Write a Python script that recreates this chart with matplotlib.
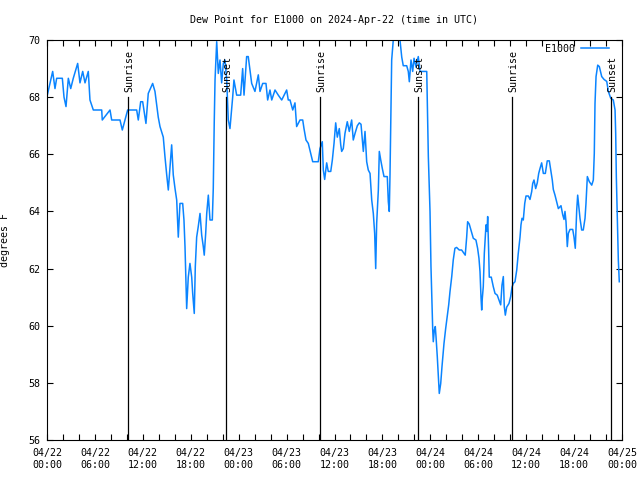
import pandas as pd
import matplotlib
matplotlib.use('Agg')
from matplotlib import pyplot as plt
import matplotlib.dates as mdates

# hours after 2024-04-22 00:00 UTC, and dew point (degrees F)
hours = [0.04, 0.71, 1.00, 1.21, 1.92, 2.13, 2.38, 2.67, 2.97, 3.29, 3.84, 4.13, 4.47, 4.76,
         5.17, 5.38, 5.80, 6.85, 6.92, 7.89, 8.10, 9.14, 9.43, 9.77, 10.10, 11.23, 11.43,
         11.73, 11.98, 12.39, 12.68, 13.23, 13.52, 13.93, 14.15, 14.56, 14.77, 14.99, 15.19,
         15.61, 15.81, 16.03, 16.24, 16.44, 16.65, 16.99, 17.15, 17.28, 17.49, 17.69, 17.90,
         18.12, 18.24, 18.44, 18.57, 18.74, 18.94, 19.16, 19.37, 19.57, 19.69, 19.87, 20.00,
         20.20, 20.41, 20.70, 20.82, 20.94, 21.04, 21.25, 21.45, 21.66, 21.87, 22.08, 22.29,
         22.50, 22.70, 22.91, 23.25, 23.41, 23.75, 24.25, 24.50, 24.67, 25.00, 25.20, 25.63,
         26.04, 26.46, 26.67, 27.01, 27.42, 27.63, 27.92, 28.14, 28.55, 28.96, 29.39, 30.01,
         30.21, 30.43, 30.77, 31.05, 31.26, 31.68, 32.02, 32.18, 32.43, 32.72, 33.02, 33.27,
         33.97, 34.18, 34.47, 34.60, 34.77, 35.02, 35.22, 35.53, 35.73, 35.94, 36.15, 36.35,
         36.60, 36.78, 36.90, 37.10, 37.31, 37.60, 37.85, 38.15, 38.35, 38.57, 38.86, 39.11,
         39.32, 39.61, 39.82, 40.03, 40.23, 40.45, 40.66, 40.86, 41.03, 41.16, 41.28, 41.49,
         41.61, 41.79, 41.99, 42.20, 42.61, 42.74, 42.86, 42.95, 43.08, 43.16, 43.36, 44.20,
         44.42, 44.61, 45.04, 45.24, 45.37, 45.58, 45.79, 45.96, 46.21, 46.49, 46.71, 47.55,
         47.62, 47.75, 47.96, 48.08, 48.21, 48.30, 48.37, 48.50, 48.62, 48.71, 48.87, 48.99,
         49.12, 49.30, 49.46, 49.71, 49.92, 50.13, 50.30, 50.46, 50.68, 50.87, 51.08, 51.29,
         51.62, 51.92, 52.21, 52.37, 52.55, 52.67, 52.87, 53.09, 53.38, 53.71, 53.92, 54.09,
         54.22, 54.35, 54.43, 54.51, 54.63, 54.76, 54.97, 55.10, 55.18, 55.30, 55.38, 55.63,
         55.88, 56.10, 56.38, 56.60, 56.81, 56.97, 57.14, 57.26, 57.39, 57.56, 57.85, 58.06,
         58.23, 58.39, 58.60, 58.82, 59.01, 59.23, 59.35, 59.48, 59.64, 59.82, 59.98, 60.27,
         60.48, 60.69, 60.82, 60.98, 61.19, 61.39, 61.57, 61.73, 61.94, 62.15, 62.40, 62.64,
         62.90, 63.11, 63.27, 63.40, 63.61, 63.82, 64.03, 64.36, 64.58, 64.74, 64.86, 64.99,
         65.15, 65.28, 65.49, 65.83, 65.99, 66.15, 66.33, 66.45, 66.62, 66.74, 66.95, 67.15,
         67.37, 67.49, 67.66, 67.91, 68.21, 68.41, 68.53, 68.62, 68.75, 68.96, 69.16, 69.46,
         69.75, 70.09, 70.29, 70.59, 70.91, 71.13, 71.21, 71.29, 71.41, 71.54, 71.66]

dewpoint = [68.07, 68.9, 68.3, 68.66, 68.66, 68.0, 67.67, 68.66, 68.3, 68.66, 69.18, 68.5, 68.9, 68.5,
            68.9, 67.9, 67.55, 67.55, 67.2, 67.55, 67.2, 67.2, 66.85, 67.2, 67.55, 67.55, 67.2,
            67.84, 67.84, 67.08, 68.13, 68.48, 68.2, 67.3, 66.97, 66.6, 65.92, 65.28, 64.75,
            66.33, 65.28, 64.8, 64.4, 63.1, 64.28, 64.28, 63.7, 62.77, 60.6, 61.7, 62.18,
            61.7, 61.14, 60.43, 62.07, 63.1, 63.47, 63.93, 63.17, 62.77, 62.47, 63.23, 63.93,
            64.57, 63.7, 63.7, 64.8, 67.1, 68.6, 69.94, 68.83, 69.3, 68.5, 69.18, 69.3,
            68.6, 67.2, 66.9, 68.0, 68.6, 68.07, 68.07, 69.0, 68.07, 69.42, 69.42, 68.48,
            68.2, 68.78, 68.2, 68.48, 68.48, 67.9, 68.25, 67.9, 68.25, 68.07, 67.9, 68.25,
            67.9, 67.9, 67.55, 67.8, 66.97, 67.2, 67.2, 66.9, 66.5, 66.38, 66.03, 65.74,
            65.74, 66.2, 66.44, 65.45, 65.12, 65.7, 65.4, 65.4, 65.8, 66.38, 67.1, 66.6,
            66.9, 66.33, 66.1, 66.2, 66.73, 67.14, 66.8, 67.2, 66.5, 66.73, 67.0, 67.1,
            67.05, 66.1, 66.8, 65.74, 65.45, 65.33, 64.4, 63.93, 63.23, 62.0, 63.58, 64.75,
            66.1, 65.8, 65.5, 65.22, 65.22, 64.34, 64.0, 65.28, 67.78, 69.3, 70.0, 70.0,
            69.4, 69.1, 69.1, 68.9, 68.54, 69.3, 68.9, 69.36, 69.05, 69.42, 68.9, 68.9,
            67.9, 65.92, 64.0, 62.07, 60.67, 59.85, 59.44, 59.85, 59.97, 59.62, 58.92, 58.33,
            57.63, 57.98, 58.57, 59.38, 59.9, 60.37, 60.73, 61.19, 61.72, 62.3, 62.71, 62.74,
            62.65, 62.65, 62.53, 62.47, 63.1, 63.64, 63.56, 63.35, 63.06, 63.0, 62.71, 62.36,
            61.89, 60.96, 60.55, 60.96, 61.37, 62.53, 63.53, 63.3, 63.82, 62.65, 61.7, 61.7,
            61.37, 61.13, 61.07, 60.9, 60.73, 61.42, 61.72, 60.67, 60.37, 60.65, 60.78, 61.02,
            61.35, 61.48, 61.54, 61.95, 62.53, 63.1, 63.53, 63.76, 63.7, 64.28, 64.54, 64.54,
            64.42, 64.69, 64.98, 65.1, 64.8, 65.0, 65.33, 65.5, 65.7, 65.33, 65.33, 65.77,
            65.77, 65.4, 65.1, 64.77, 64.57, 64.34, 64.1, 64.2, 63.88, 63.72, 64.0, 63.64,
            62.77, 63.23, 63.37, 63.37, 63.1, 62.71, 64.05, 64.57, 64.1, 63.76, 63.35, 63.35,
            63.76, 64.28, 65.22, 65.04, 64.92, 65.1, 66.03, 67.78, 68.72, 69.12, 69.07, 68.72,
            68.62, 68.55, 68.2, 67.96, 67.9, 67.55, 66.73, 65.22, 63.76, 62.3, 61.54]

sun_hours = [10.18, 22.41, 34.18, 46.49, 58.19, 70.59]
sun_labels = ['Sunrise', 'Sunset', 'Sunrise', 'Sunset', 'Sunrise', 'Sunset']

start = pd.Timestamp('2024-04-22 00:00')
times = start + pd.to_timedelta(hours, unit='h')
sun_times = start + pd.to_timedelta(sun_hours, unit='h')

plt.rcParams['font.family'] = 'DejaVu Sans Mono'
plt.rcParams['font.size'] = 7.2

fig = plt.figure(figsize=(6.4, 4.8), dpi=100)
ax = fig.add_axes([47 / 640, 1 - 440 / 480, 575 / 640, 400 / 480])

ax.plot(times, dewpoint, color='#0a84ff', lw=1.1, label='E1000')

for t, lab in zip(sun_times, sun_labels):
    ax.plot([t, t], [56, 68], color='black', lw=0.9)
    ax.annotate(lab, (t, 68), xytext=(1, 4), textcoords='offset points',
                rotation=90, ha='center', va='bottom')

ax.set_xlim(start, start + pd.Timedelta(hours=72))
ax.set_ylim(56, 70)
ax.set_yticks(range(56, 71, 2))

ax.xaxis.set_major_locator(mdates.HourLocator(byhour=[0, 6, 12, 18]))
ax.xaxis.set_minor_locator(mdates.HourLocator(byhour=range(0, 24, 2)))
ax.xaxis.set_major_formatter(mdates.DateFormatter('%m/%d\n%H:%M'))

ax.tick_params(which='both', direction='in', top=True, right=True, length=4, width=0.8)
ax.tick_params(axis='x', pad=6)
ax.tick_params(axis='y', pad=5)
for s in ax.spines.values():
    s.set_linewidth(0.8)

ax.set_title('Dew Point for E1000 on 2024-Apr-22 (time in UTC)', fontsize=7.2, pad=12)
ax.set_ylabel('degrees F')
ax.yaxis.set_label_coords(-0.064, 0.5)

ax.legend(loc='upper right', bbox_to_anchor=(0.977, 0.99), frameon=False,
          markerfirst=False, handlelength=2.8, handletextpad=0.6,
          borderpad=0, borderaxespad=0)

fig.savefig('out.png', dpi=100)
